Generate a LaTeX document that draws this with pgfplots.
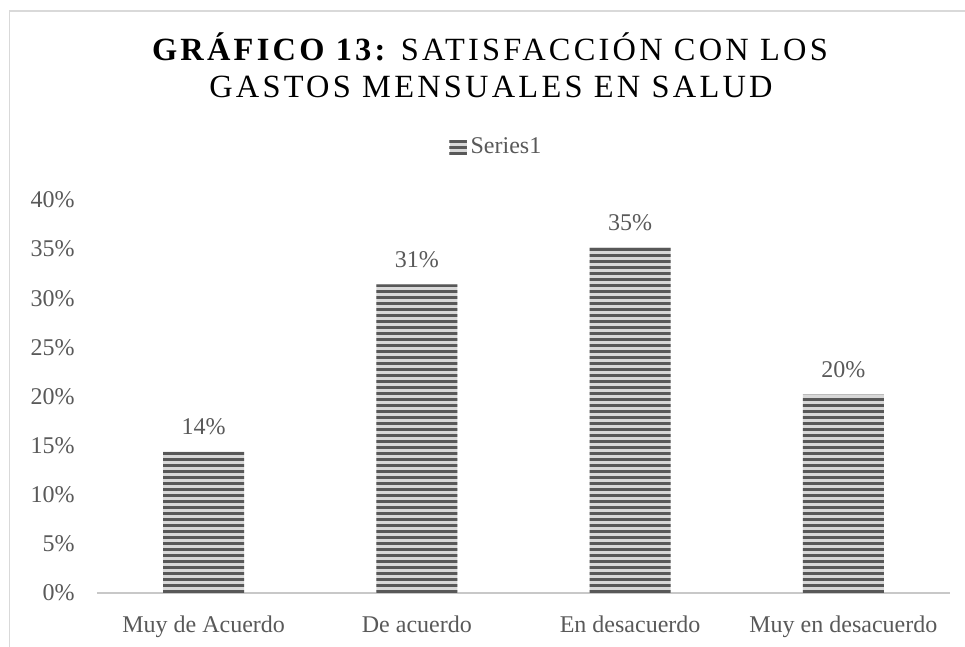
\documentclass[border=0pt]{standalone}
\usepackage{fontspec}
\setmainfont{Liberation Serif}
\newfontfamily\titlefont{Liberation Serif}[LetterSpace=10]
\usepackage{pgfplots}
\pgfplotsset{compat=1.18}
\usetikzlibrary{patterns}
\definecolor{txt}{HTML}{595959}
\definecolor{framec}{HTML}{D9D9D9}
\definecolor{axl}{HTML}{C8C8C8}
\definecolor{bdark}{HTML}{585858}
\definecolor{blight}{HTML}{D8D8D8}
\pgfdeclarepatternformonly{hstripes}{\pgfpoint{0pt}{0pt}}{\pgfpoint{20pt}{3pt}}{\pgfpoint{20pt}{3pt}}{%
  \pgfpathrectangle{\pgfpoint{-1pt}{0pt}}{\pgfpoint{22pt}{1.7pt}}\pgfusepath{fill}}
\begin{document}
\begin{tikzpicture}
\useasboundingbox (0,0) rectangle (482.5pt,323.5pt);
\draw[framec, line width=0.8pt] (4.75pt,-1pt) -- (4.75pt,318pt) -- (484pt,318pt);
\node[anchor=base, font=\titlefont\fontsize{16.2}{18}\selectfont, text=black, inner sep=0pt] at (245pt,293pt) {\textbf{GRÁFICO 13:}\hspace{-1.5pt} SATISFACCIÓN CON LOS};
\node[anchor=base, font=\titlefont\fontsize{16.2}{18}\selectfont, text=black, inner sep=0pt] at (245.5pt,274.5pt) {GASTOS MENSUALES EN SALUD};
\begin{axis}[
  at={(48.5pt,27pt)}, anchor=south west,
  width=426.5pt, height=196.5pt, scale only axis,
  xmin=-0.5, xmax=3.5, ymin=0, ymax=40,
  enlargelimits=false, clip=false,
  ybar, bar width=40.5pt,
  separate axis lines,
  axis x line*=bottom, axis y line*=left,
  x axis line style={axl, line width=1.3pt},
  y axis line style={draw=none},
  major tick length=0pt,
  tick style={draw=none},
  xtick={0,1,2,3},
  xticklabels={Muy de Acuerdo, De acuerdo, En desacuerdo, Muy en desacuerdo},
  ytick={0,5,...,40},
  yticklabel={\pgfmathprintnumber{\tick}\%},
  /pgf/number format/assume math mode=true,
  tick label style={font=\fontsize{12}{14}\selectfont, text=txt},
  yticklabel style={inner sep=0pt, anchor=east, xshift=-11pt},
  xticklabel style={inner sep=0pt, anchor=north, yshift=-11.2pt},
  nodes near coords={\pgfmathprintnumber[fixed,precision=0]{\pgfplotspointmeta}\%},
  every node near coord/.append style={font=\fontsize{12}{14}\selectfont, text=txt, anchor=south, inner sep=0pt, yshift=8pt},
  legend style={at={(axis description cs:0.4695,1.1336)}, anchor=center, draw=none, fill=none, inner sep=0pt, text=txt, font=\fontsize{12}{14}\selectfont,
    /tikz/every even column/.append style={column sep=1pt}},
  legend image code/.code={%
    \fill[blight] (0pt,-3.3pt) rectangle (8.5pt,3.9pt);
    \fill[pattern=hstripes, pattern color=bdark] (0pt,-3.3pt) rectangle (8.5pt,3.9pt);},
]
\addplot[fill=blight, draw=none, postaction={pattern=hstripes, pattern color=bdark}]
  coordinates {(0,14.4) (1,31.4) (2,35.2) (3,20.2)};
\addlegendentry{Series1}
\end{axis}
\end{tikzpicture}
\end{document}
